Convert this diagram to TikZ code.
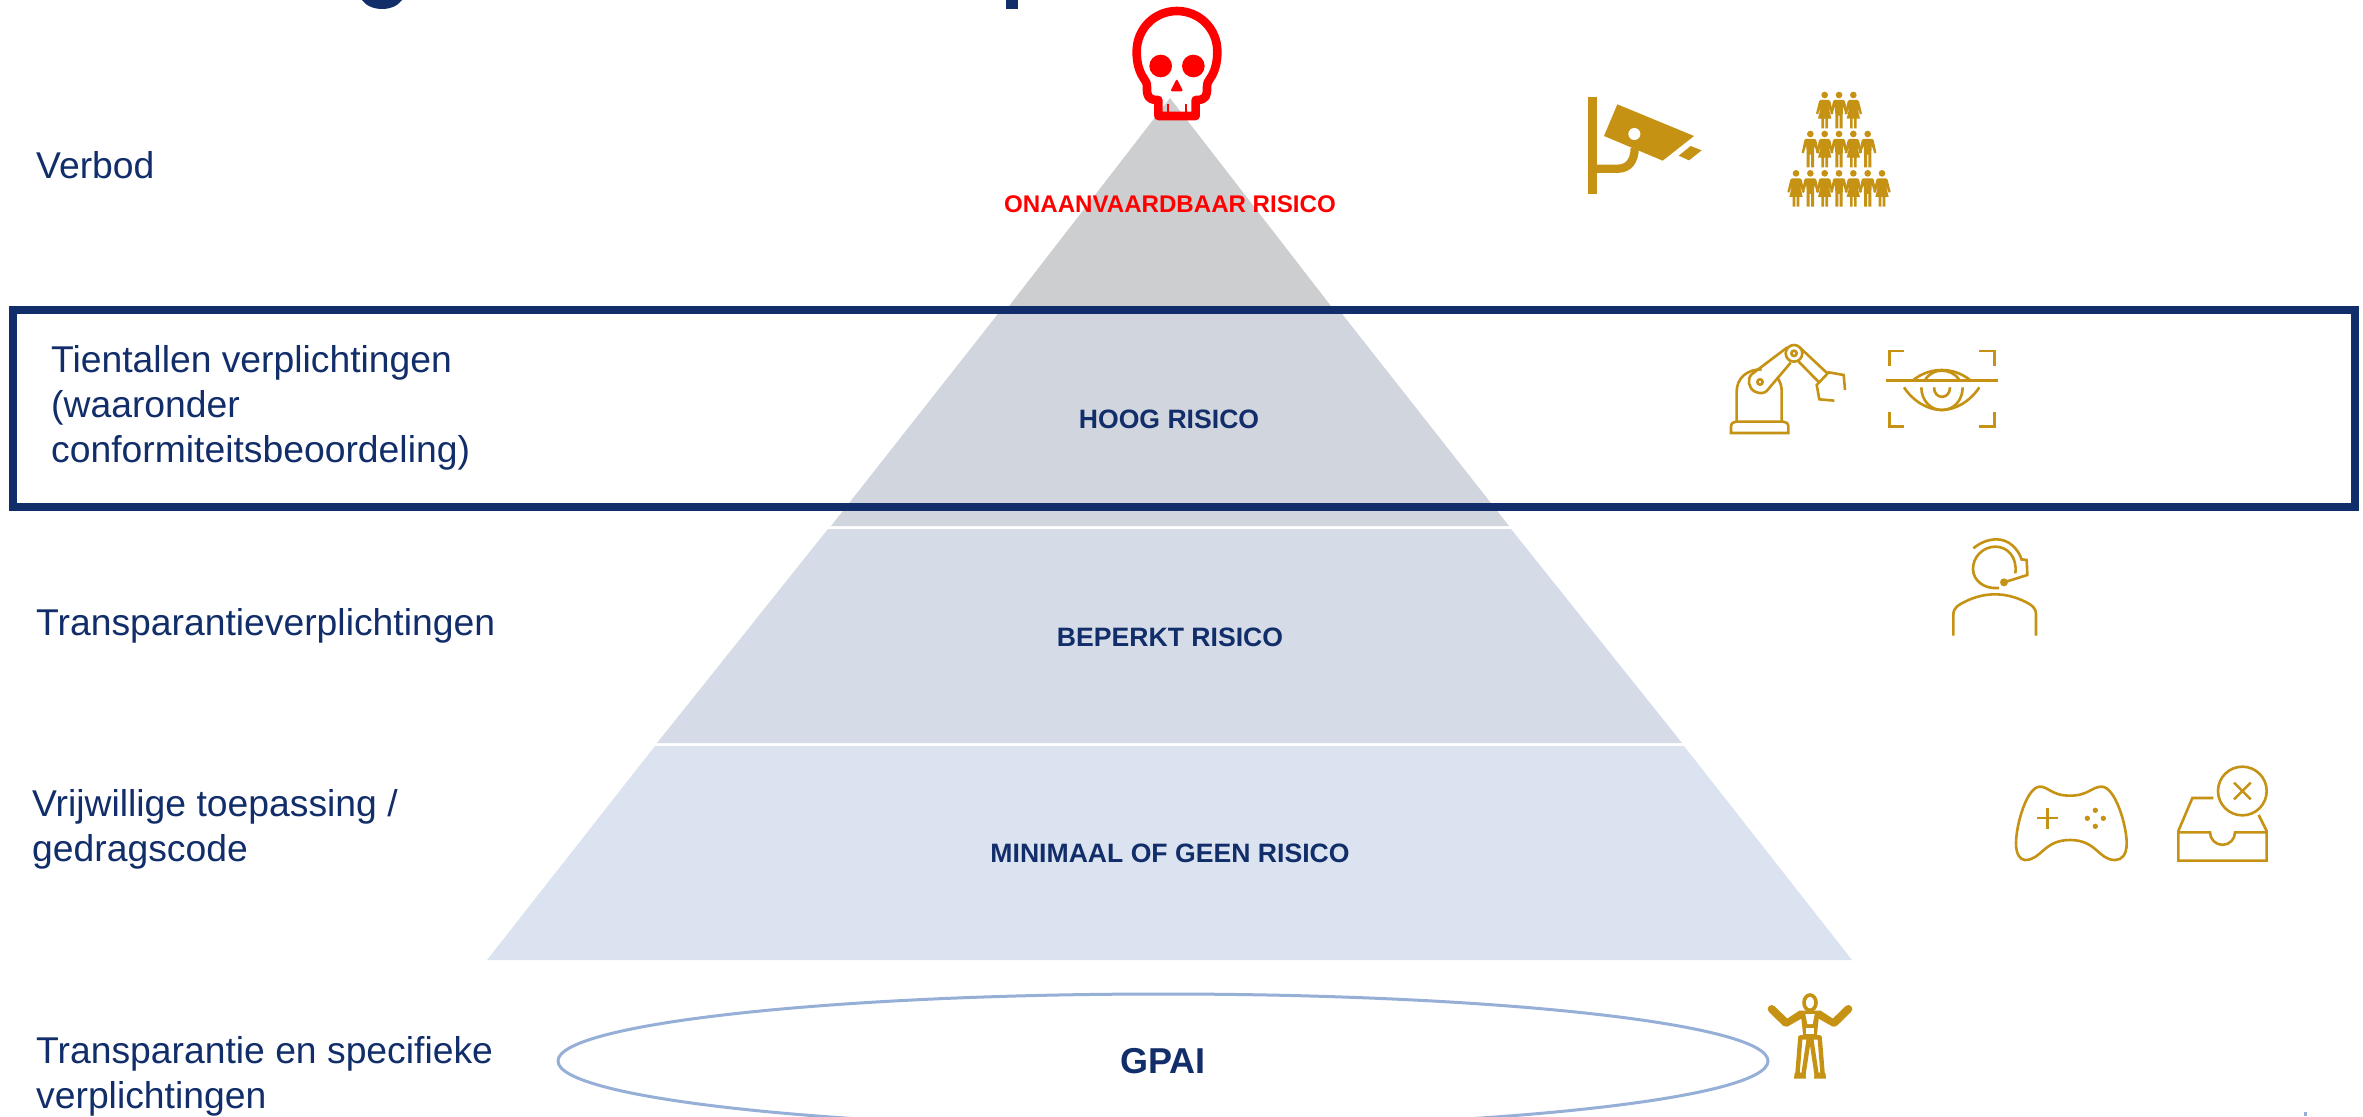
\documentclass[tikz,border=0pt]{standalone}
\usepackage{fontspec}
\usetikzlibrary{shapes.geometric}
\setmainfont{Liberation Sans}
\definecolor{navy}{RGB}{18,46,106}
\definecolor{gold}{RGB}{198,146,20}
\definecolor{skullred}{RGB}{255,0,0}
\definecolor{layerA}{RGB}{205,206,208}
\definecolor{layerB}{RGB}{209,213,222}
\definecolor{layerC}{RGB}{213,219,231}
\definecolor{layerD}{RGB}{219,227,240}
\definecolor{ringblue}{RGB}{150,175,215}
\tikzset{
  side/.style={inner sep=0pt,anchor=base west,align=left,text=navy,font=\fontsize{37.3}{45}\selectfont},
  level/.style={inner sep=0pt,anchor=center,text=navy,font=\fontsize{26.6}{30}\bfseries\selectfont},
  iconline/.style={draw=gold,line width=2.6pt,line cap=butt,line join=miter,fill=none},
  px3/.style={x=0.33333pt,y=-0.33333pt},
  manfig/.pic={
    \fill[gold] (0,0) circle[radius=10];
    \fill[gold] (-14,15) -- (14,15) -- (18,19) -- (26,56) -- (20,58) -- (12,34) -- (11,62) -- (11,100) -- (2,100) -- (2,62) -- (-2,62) -- (-2,100) -- (-11,100) -- (-11,62) -- (-12,34) -- (-20,58) -- (-26,56) -- (-18,19) -- cycle;
  },
  womanfig/.pic={
    \fill[gold] (0,0) circle[radius=10];
    \fill[gold] (-12,15) -- (12,15) -- (17,19) -- (26,56) -- (20,58) -- (11,34) -- (20,71) -- (10,71) -- (10,100) -- (2,100) -- (2,71) -- (-2,71) -- (-2,100) -- (-10,100) -- (-10,71) -- (-20,71) -- (-11,34) -- (-20,58) -- (-26,56) -- (-17,19) -- cycle;
  }
}
\begin{document}
\begin{tikzpicture}[x=1pt,y=-1pt]
\useasboundingbox (0,0) rectangle (2363,1116);
\clip (0,0) rectangle (2363,1116);
\fill[white] (0,0) rectangle (2363,1116);

% cut-off title remnants
\fill[navy] (362,0) .. controls (366,6) and (374,9) .. (382,9) .. controls (390,9) and (398,6) .. (402,0) -- cycle;
\fill[navy] (1006,0) rectangle (1018,9);

% pyramid
\fill[layerA] (1170,98) -- (1334,310) -- (1006,310) -- cycle;
\fill[layerB] (1001,310) -- (1339,310) -- (1509,526) -- (831,526) -- cycle;
\fill[layerC] (828,529) -- (1511,529) -- (1682,743) -- (657,743) -- cycle;
\fill[layerD] (655,746) -- (1684,746) -- (1852,960) -- (487,960) -- cycle;

% GPAI ring
\node[ellipse,draw=ringblue,line width=3pt,minimum width=1210pt,minimum height=134pt,inner sep=0pt,text=navy,font=\fontsize{36}{40}\bfseries\selectfont] (gpai) at (1163,1061) {GPAI};
\fill[ringblue] (2304,1112) rectangle (2307,1116);

% highlight band
\draw[navy,line width=8pt] (13,310) rectangle (2355,506.5);

% labels
\node[side] (verbod) at (36,178) {Verbod};
\node[side,anchor=north west] (tien) at (51,345) {Tientallen verplichtingen\\(waaronder\\conformiteitsbeoordeling)};
\node[side] (transp) at (36,635) {Transparantieverplichtingen};
\node[side,anchor=north west] (vrij) at (32,789) {Vrijwillige toepassing /\\gedragscode};
\node[side,anchor=north west] (gpait) at (36,1036) {Transparantie en specifieke\\verplichtingen};

\node[level,text=skullred,font=\fontsize{24.1}{28}\bfseries\selectfont] (onaan) at (1170,204) {ONAANVAARDBAAR RISICO};
\node[level] (hoog) at (1169,419) {HOOG RISICO};
\node[level] (beperkt) at (1170,637) {BEPERKT RISICO};
\node[level] (minimaal) at (1170,853) {MINIMAAL OF GEEN RISICO};

% skull
\begin{scope}[shift={(1080,0)},px3]
  \draw[skullred,line width=8.6pt,line join=round]
    (235,300) -- (228,300) .. controls (205,298) and (200,288) .. (201,262)
    .. controls (201,250) and (198,244) .. (192,236)
    .. controls (178,216) and (170,190) .. (170,155)
    .. controls (170,85) and (225,33) .. (291,33)
    .. controls (357,33) and (412,85) .. (412,155)
    .. controls (412,190) and (404,216) .. (390,236)
    .. controls (384,244) and (381,250) .. (381,262)
    .. controls (382,288) and (377,298) .. (354,300) -- (347,300)
    -- (347,348) -- (235,348) -- cycle;
  \draw[skullred,line width=2.4pt] (264,312) -- (264,345) (318,312) -- (318,345);
  \fill[skullred] (242,198) circle[radius=34] (340,198) circle[radius=34];
  \fill[skullred,rounded corners=2pt] (290,236) -- (310,274) -- (271,274) -- cycle;
\end{scope}

% camera
\begin{scope}[shift={(1540,70)},px3]
  \fill[gold] (145,80) rectangle (171,373);
  \fill[gold] (232,103) -- (462,198) -- (368,272) -- (192,198) -- cycle;
  \fill[gold] (452,228) -- (485,241) -- (447,271) -- (416,257) -- cycle;
  \draw[gold,line width=8.3pt] (171,296) -- (235,296) .. controls (265,296) and (284,272) .. (284,235);
  \fill[white] (283,192) circle[radius=18];
\end{scope}

% crowd
\begin{scope}[shift={(1540,70)},px3]
  \foreach \px/\py in {854/75,940/75,854/192,940/192,768/310,854/310,940/310,1026/310}
    \pic at (\px,\py) {womanfig};
  \foreach \px/\py in {897/75,811/192,897/192,983/192,811/310,897/310,983/310}
    \pic at (\px,\py) {manfig};
\end{scope}

% robot arm
\begin{scope}[shift={(1700,320)},px3,every path/.style={iconline}]
  \draw (93,339) -- (93,320) .. controls (93,310) and (100,305) .. (108,305) -- (250,305) .. controls (258,305) and (265,310) .. (265,320) -- (265,339) -- cycle;
  \draw (110,305) -- (110,215) .. controls (110,175) and (140,148) .. (185,148);
  \draw (245,305) -- (245,212) .. controls (245,198) and (240,185) .. (232,172);
  \draw (262,82) -- (156,162) .. controls (140,176) and (145,205) .. (165,215) .. controls (180,222) and (192,220) .. (200,213) -- (272,128);
  \draw (282,100) circle[radius=25];
  \draw (282,100) circle[radius=8];
  \draw (180,186) circle[radius=8];
  \draw (302,85) -- (382,160);
  \draw (296,125) -- (358,188);
  \draw (435,210) -- (431,165) -- (386,157) -- (350,195) -- (358,238) -- (403,242);
\end{scope}

% eye scan
\begin{scope}[shift={(1700,320)},px3,every path/.style={iconline}]
  \draw (568,137) -- (568,93) -- (613,93);
  \draw (838,93) -- (883,93) -- (883,137);
  \draw (568,277) -- (568,320) -- (613,320);
  \draw (838,320) -- (883,320) -- (883,277);
  \draw (558,181) -- (893,181);
  \draw (640,180) .. controls (665,160) and (695,150) .. (725,150) .. controls (755,150) and (785,160) .. (810,180);
  \draw (675,180) .. controls (688,160) and (705,152) .. (725,152) .. controls (745,152) and (765,160) .. (778,180);
  \draw (612,202) .. controls (640,245) and (685,270) .. (725,270) .. controls (765,270) and (810,245) .. (838,202);
  \draw (664,202) .. controls (664,240) and (690,270) .. (726,270) .. controls (762,270) and (788,240) .. (788,202);
  \draw (702,202) .. controls (702,240) and (750,240) .. (750,202);
\end{scope}

% headset person
\begin{scope}[shift={(1920,520)},px3,every path/.style={iconline}]
  \draw (160,85) .. controls (180,68) and (205,58) .. (230,58) .. controls (265,58) and (295,85) .. (306,122);
  \draw (237,204) .. controls (192,208) and (160,182) .. (159,148) .. controls (158,110) and (190,80) .. (226,80) .. controls (262,80) and (292,110) .. (286,160);
  \draw (306,118) -- (320,120) -- (322,165) -- (252,187);
  \fill[gold,draw=none] (252,187) circle[radius=12];
  \draw (100,347) -- (100,285) .. controls (100,262) and (115,255) .. (135,245) .. controls (165,230) and (195,223) .. (225,223) .. controls (255,223) and (285,230) .. (315,245) .. controls (335,255) and (348,262) .. (348,285) -- (348,347);
\end{scope}

% game controller
\begin{scope}[shift={(1990,750)},px3,every path/.style={iconline}]
  \draw (150,110) .. controls (175,110) and (185,137) .. (240,137) .. controls (295,137) and (305,110) .. (335,110)
   .. controls (375,110) and (410,225) .. (410,280) .. controls (410,315) and (395,330) .. (375,330)
   .. controls (325,330) and (320,270) .. (240,270) .. controls (160,270) and (155,330) .. (105,330)
   .. controls (90,330) and (78,312) .. (78,280) .. controls (78,225) and (110,110) .. (150,110) -- cycle;
  \draw (140,204) -- (203,204) (172,174) -- (172,236);
  \fill[gold,draw=none] (316,181) circle[radius=8] (292,205) circle[radius=8] (340,205) circle[radius=8] (316,229) circle[radius=8];
\end{scope}

% inbox with cross
\begin{scope}[shift={(1990,750)},px3,every path/.style={iconline}]
  \draw (670,144) -- (607,144) -- (565,243) -- (565,332) -- (830,332) -- (830,243) -- (806,195);
  \draw (565,247) -- (660,247) arc[start angle=180,end angle=0,radius=37.5] -- (830,247);
  \draw (757,123) circle[radius=73];
  \draw (732,98) -- (782,148) (782,98) -- (732,148);
\end{scope}

% figure
\begin{scope}[shift={(1740,980)},px3]
  \draw[gold,line width=3.6pt] (210,68) ellipse[x radius=18,y radius=23];
  \draw[gold,line width=8pt,line cap=round] (95,87) -- (137,128);
  \draw[gold,line width=8pt,line cap=round] (325,87) -- (283,128);
  \fill[gold] (132,122) -- (178,92) -- (242,92) -- (288,122) -- (278,140) -- (236,116) -- (230,172) -- (190,172) -- (184,116) -- (142,140) -- cycle;
  \fill[white] (196,102) -- (224,102) -- (218,132) -- (202,132) -- cycle;
  \fill[white] (198,144) -- (222,144) -- (222,162) -- (198,162) -- cycle;
  \draw[gold,line width=4.4pt,line join=round] (181,172) -- (172,285) -- (190,285) -- (207,172) -- cycle;
  \draw[gold,line width=4.4pt,line join=round] (239,172) -- (248,285) -- (230,285) -- (213,172) -- cycle;
  \fill[gold] (164,278) -- (196,278) -- (198,296) -- (162,296) -- cycle;
  \fill[gold] (224,278) -- (256,278) -- (258,296) -- (222,296) -- cycle;
\end{scope}
\end{tikzpicture}
\end{document}
